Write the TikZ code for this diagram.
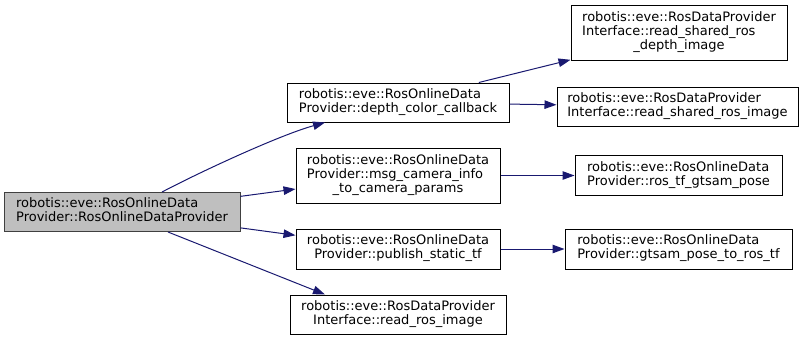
\documentclass[tikz,border=0pt]{standalone}
\usepackage{fontspec}
\setmainfont{DejaVu Sans}
\usepackage{tikz}
\usetikzlibrary{arrows.meta}
\definecolor{edgeblue}{HTML}{191970}
\definecolor{rootgray}{HTML}{BFBFBF}
\newcommand{\fnlines}[1]{\begin{tabular}{@{}l@{}}#1\end{tabular}}
\newcommand{\ctrline}[1]{\multicolumn{1}{@{}c@{}}{#1}}

\begin{document}
\begin{tikzpicture}[x=1pt, y=-1pt,
        fn/.style={draw=black, fill=white, line width=1pt, inner sep=0pt,
            font=\fontsize{13}{14}\selectfont},
        fnroot/.style={fn, draw=black!75, fill=rootgray},
        boxsize/.style 2 args={minimum width=#1pt, minimum height=#2pt},
        call/.style={draw=edgeblue, line width=1pt, -{Triangle[length=12pt, width=8.5pt]}}]
    \useasboundingbox (0,0) rectangle (805,341);

    \node[fnroot, boxsize={236}{39}] (ctor) at (122,212)
        {\fnlines{robotis::eve::RosOnlineData\\\ctrline{Provider::RosOnlineDataProvider}}};

    \node[fn, boxsize={222}{39}] (depthcb) at (398,102.5)
        {\fnlines{robotis::eve::RosOnlineData\\\ctrline{Provider::depth\_color\_callback}}};
    \node[fn, boxsize={204}{55}] (caminfo) at (398,175.5)
        {\fnlines{robotis::eve::RosOnlineData\\Provider::msg\_camera\_info\\\ctrline{\_to\_camera\_params}}};
    \node[fn, boxsize={204}{40}] (statictf) at (398,249)
        {\fnlines{robotis::eve::RosOnlineData\\\ctrline{Provider::publish\_static\_tf}}};
    \node[fn, boxsize={216}{39}] (readimg) at (398,314.5)
        {\fnlines{robotis::eve::RosDataProvider\\\ctrline{Interface::read\_ros\_image}}};

    \node[fn, boxsize={216}{55}] (readdepth) at (679,33)
        {\fnlines{robotis::eve::RosDataProvider\\Interface::read\_shared\_ros\\\ctrline{\_depth\_image}}};
    \node[fn, boxsize={241}{39}] (readshared) at (677.5,106.5)
        {\fnlines{robotis::eve::RosDataProvider\\\ctrline{Interface::read\_shared\_ros\_image}}};
    \node[fn, boxsize={207}{40}] (tfpose) at (678.5,175.5)
        {\fnlines{robotis::eve::RosOnlineData\\\ctrline{Provider::ros\_tf\_gtsam\_pose}}};
    \node[fn, boxsize={227}{40}] (posetf) at (678.5,249)
        {\fnlines{robotis::eve::RosOnlineData\\\ctrline{Provider::gtsam\_pose\_to\_ros\_tf}}};

    % calls out of the constructor
    \draw[call] ([xshift=40pt]ctor.north) .. controls (202,171) and (280,135) .. ([xshift=-73pt]depthcb.south);
    \draw[call] (ctor) -- (caminfo);
    \draw[call] (ctor) -- (statictf);
    \draw[call] ([xshift=46pt]ctor.south) -- ([xshift=-73pt]readimg.north);

    % second level
    \draw[call] (depthcb) -- (readdepth);
    \draw[call] (depthcb) -- (readshared);
    \draw[call] (caminfo) -- (tfpose);
    \draw[call] (statictf) -- (posetf);
\end{tikzpicture}
\end{document}
